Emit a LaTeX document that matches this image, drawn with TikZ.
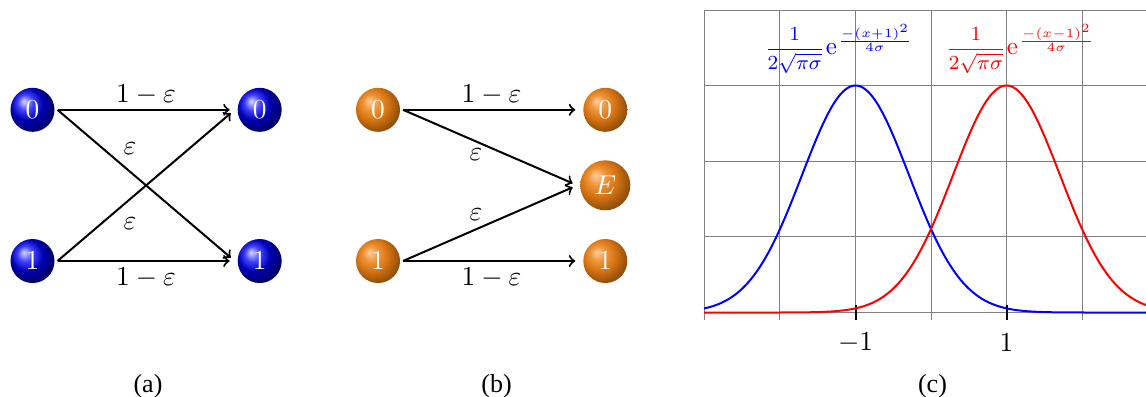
\documentclass[tikz,border=0pt]{standalone}
\usepackage[no-math]{fontspec}
\newfontfamily\capfont{Liberation Serif}
\usepackage{amsmath}
\definecolor{gridgray}{gray}{0.5}
\definecolor{oa}{rgb}{1.0,0.80,0.62}
\definecolor{ob}{rgb}{0.93,0.58,0.22}
\definecolor{oc}{rgb}{0.84,0.45,0.07}
\definecolor{od}{rgb}{0.66,0.36,0.05}
\definecolor{oe}{rgb}{0.10,0.05,0.0}
\pgfdeclareradialshading{orangesphere}{\pgfqpoint{-10bp}{10bp}}{%
  color(0bp)=(oa);
  color(9bp)=(ob);
  color(18bp)=(oc);
  color(25bp)=(od);
  color(50bp)=(oe)}
\newcommand{\bigtext}{\fontsize{10.95}{13}\selectfont}
\newcommand{\formula}[1]{$\mbox{\footnotesize$\dfrac{1}{2\sqrt{\pi\sigma}}$}\kern0.4pt\mathrm{e}\kern0.4pt^{\mbox{\small$\scriptstyle\frac{-(x#11)^2}{4\sigma}$}}$}
\tikzset{
  ballnode/.style={circle,minimum size=17.6pt,inner sep=0pt,outer sep=1.2pt,text=white,font=\bigtext},
  blueball/.style={ballnode,ball color=blue},
  orangeball/.style={ballnode,shading=orangesphere},
  bigball/.style={minimum size=20pt},
  link/.style={-to,line width=0.8pt,shorten >=2pt},
  gridline/.style={gridgray,line width=0.4pt},
  tickmark/.style={black,line width=0.8pt},
  curve/.style={line width=0.8pt},
  caption/.style={font=\capfont\fontsize{10.4}{12}\selectfont},
  lab/.style={inner sep=0pt,font=\bigtext},
}
\begin{document}
\begin{tikzpicture}[x=0.4pt,y=-0.4pt]
\useasboundingbox (0,0) rectangle (1146,396);
% (a)
\node[blueball] (a0) at (32.5,109.8) {$0$};
\node[blueball] (a1) at (32.5,261) {$1$};
\node[blueball] (b0) at (259.7,109.8) {$0$};
\node[blueball] (b1) at (259.7,261) {$1$};
\draw[link] (a0.east) -- (b0.west);
\draw[link] (a0.east) -- (b1.west);
\draw[link] (a1.east) -- (b0.west);
\draw[link] (a1.east) -- (b1.west);
\node[lab] (la1) at (146,94.5) {$1-\varepsilon$};
\node[lab] (la2) at (146,277.5) {$1-\varepsilon$};
\node[lab] (la3) at (130,148.5) {$\varepsilon$};
\node[lab] (la4) at (130,223.5) {$\varepsilon$};
\node[caption] (capa) at (148,386) {(a)};
% (b)
\node[orangeball] (c0) at (378,109.8) {$0$};
\node[orangeball] (c1) at (378,261) {$1$};
\node[orangeball] (d0) at (605.3,109.8) {$0$};
\node[orangeball,bigball] (dE) at (605.3,185.3) {$E$};
\node[orangeball] (d1) at (605.3,261) {$1$};
\draw[link] (c0.east) -- (d0.west);
\draw[link] (c0.east) -- (dE.west);
\draw[link] (c1.east) -- (dE.west);
\draw[link] (c1.east) -- (d1.west);
\node[lab] (lb1) at (491.5,94.5) {$1-\varepsilon$};
\node[lab] (lb2) at (491.5,277.5) {$1-\varepsilon$};
\node[lab] (lb3) at (476,155) {$\varepsilon$};
\node[lab] (lb4) at (476,215) {$\varepsilon$};
\node[caption] (capb) at (496.5,386) {(b)};
% (c)
\foreach \yy in {10,85.5,161,236.5,312.5} \draw[gridline] (704,\yy) -- (1146,\yy);
\foreach \xx in {704,779.7,855.5,931,1006.5,1082.3} \draw[gridline] (\xx,10) -- (\xx,320);
\draw[tickmark] (855.5,305) -- (855.5,320);
\draw[tickmark] (1006.5,305) -- (1006.5,320);
\draw[curve,blue] plot[smooth,samples=90,domain=704:1146] (\x,{312.5-227*exp(-((\x-855.5)/75.5)^2)});
\draw[curve,red] plot[smooth,samples=90,domain=704:1146] (\x,{312.5-227*exp(-((\x-1006.5)/75.5)^2)});
\node[lab] (t1) at (855.5,342.5) {$-1$};
\node[lab] (t2) at (1006.5,342.5) {$1$};
\node[inner sep=0pt,blue] (f1) at (839,49) {\formula{+}};
\node[inner sep=0pt,red] (f2) at (1020.5,49) {\formula{-}};
\node[caption] (capc) at (932.5,386) {(c)};
\end{tikzpicture}
\end{document}
